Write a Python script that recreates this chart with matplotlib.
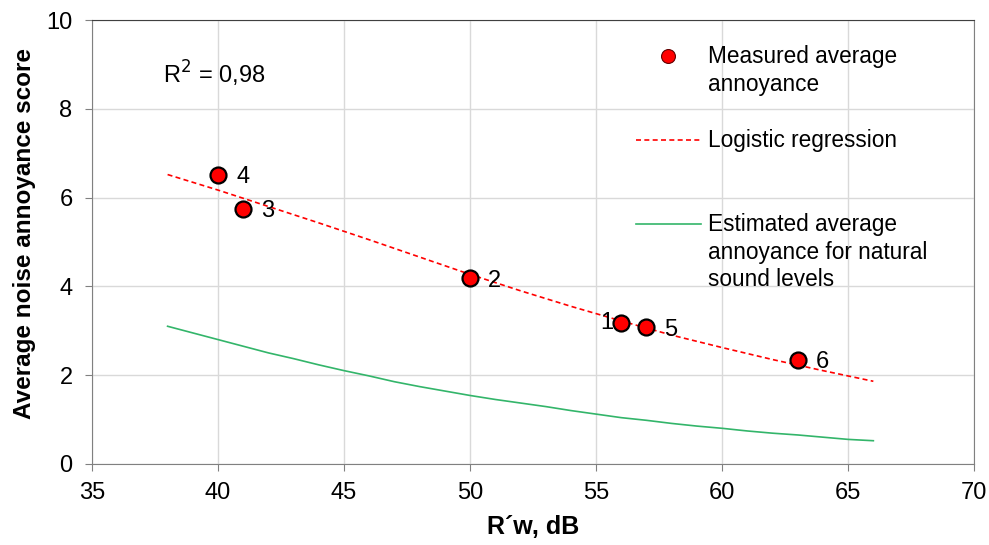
import matplotlib
matplotlib.use("Agg")
import matplotlib.pyplot as plt
from matplotlib.lines import Line2D

plt.rcParams['font.family'] = ['Liberation Sans', 'DejaVu Sans']

# measured points
rw_meas = [40, 41, 50, 56, 57, 63]
score_meas = [6.52, 5.75, 4.18, 3.17, 3.08, 2.35]
point_ids = ['4', '3', '2', '1', '5', '6']

# logistic regression curve
rw_fit = [38, 40, 42, 44, 46, 48, 50, 52, 54, 56, 58, 60, 62, 64, 66]
score_fit = [6.52, 6.17, 5.80, 5.43, 5.05, 4.66, 4.27, 3.90, 3.55, 3.22, 2.90, 2.62, 2.35, 2.10, 1.86]

# estimated annoyance for natural sound levels
rw_nat = list(range(38, 67))
score_nat = [3.10, 2.95, 2.80, 2.65, 2.50, 2.37, 2.23, 2.10, 1.98, 1.85, 1.74, 1.64, 1.54, 1.45,
             1.37, 1.29, 1.20, 1.12, 1.04, 0.98, 0.91, 0.85, 0.80, 0.74, 0.69, 0.65, 0.60, 0.55, 0.52]

red = '#ff0000'
green = '#33b56a'

fig = plt.figure(figsize=(9.89, 5.45), dpi=100)
ax = fig.add_axes([0.093, 0.149, 0.892, 0.814])

ax.grid(True, color='#d9d9d9', linewidth=1)
ax.set_axisbelow(True)

ax.plot(rw_nat, score_nat, color=green, linewidth=1.2)
ax.plot(rw_fit, score_fit, color=red, linewidth=1.2, linestyle=(0, (3, 2)))
ax.plot(rw_meas, score_meas, 'o', markersize=11.5, markerfacecolor=red,
        markeredgecolor='black', markeredgewidth=1.6, zorder=5)

for x, y, s in zip(rw_meas, score_meas, point_ids):
    if s == '1':
        ax.annotate(s, (x, y), xytext=(-6, 0), textcoords='offset points',
                    ha='right', va='center', fontsize=17)
    else:
        ax.annotate(s, (x, y), xytext=(13, -2), textcoords='offset points',
                    ha='left', va='center', fontsize=17)

ax.text(37.8, 8.78, 'R$^2$ = 0,98', fontsize=17, va='center', ha='left')

ax.set_xlim(35, 70)
ax.set_ylim(0, 10)
ax.set_xticks(range(35, 71, 5))
ax.set_yticks(range(0, 11, 2))
ax.tick_params(labelsize=17, length=5, color='#808080')
ax.tick_params(axis='y', pad=9)
ax.tick_params(axis='x', pad=8)
for side in ['left', 'bottom', 'right']:
    ax.spines[side].set_color('#808080')
ax.spines['top'].set_color('#404040')

ax.set_xlabel('R´w, dB', fontsize=18, fontweight='bold', labelpad=8)
ax.set_ylabel('Average noise annoyance score', fontsize=17.5, fontweight='bold', labelpad=6)
ax.yaxis.set_label_coords(-0.064, 0.52)

# legend: one entry per block so the gaps match
entries = [
    (Line2D([], [], marker='o', linestyle='none', markersize=10, markerfacecolor=red,
            markeredgecolor='#600000', markeredgewidth=0.8),
     ['Measured average', 'annoyance'], 57),
    (Line2D([], [], color=red, linewidth=1.2, linestyle=(0, (3, 2))),
     ['Logistic regression'], 141),
    (Line2D([], [], color=green, linewidth=1.2),
     ['Estimated average', 'annoyance for natural', 'sound levels'], 225),
]
W, H = 989, 545
legs = []
for handle, lines, ypix in entries:
    leg = fig.legend([handle], [lines[0]], loc='center left',
                     bbox_to_anchor=(636 / W, 1 - ypix / H),
                     frameon=False, fontsize=16.3, handlelength=2.85, handletextpad=0.35,
                     borderpad=0, borderaxespad=0)
    legs.append((leg, lines, ypix))

fig.canvas.draw()
for leg, lines, ypix in legs:
    bb = leg.get_texts()[0].get_window_extent()
    x0 = bb.x0 / W
    for i, t in enumerate(lines[1:], start=1):
        fig.text(x0, 1 - (ypix + 27 * i) / H, t, fontsize=16.3, va='center', ha='left')

fig.savefig('out.png', dpi=100)
